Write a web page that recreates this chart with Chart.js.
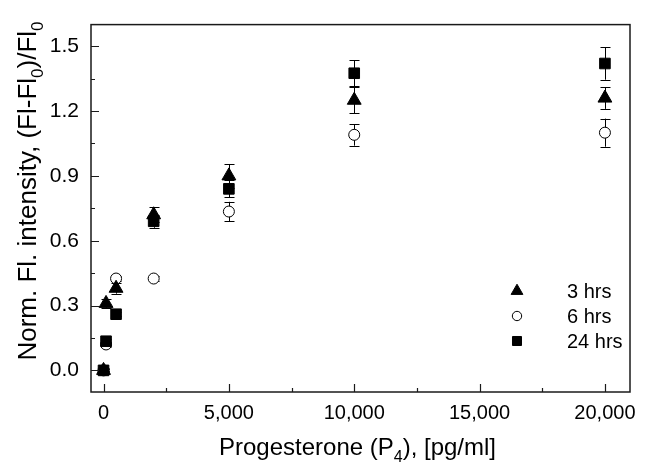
<!DOCTYPE html>
<html>
<head>
<meta charset="utf-8">
<script src="https://cdn.jsdelivr.net/npm/chart.js@4/dist/chart.umd.min.js"></script>
<style>
  html, body { margin: 0; padding: 0; background: #fff; }
  #wrap { width: 648px; height: 467px; }
</style>
</head>
<body>
<div id="wrap"><canvas id="grafico" width="648" height="467"></canvas></div>
<script>
// concentraciones de progesterona (pg/ml)
const concentraciones = [0, 100, 500, 2000, 5000, 10000, 20000];

const horas3 = [0.0, 0.31, 0.38, 0.72, 0.90, 1.25, 1.26];
const horas3Err = [0.01, 0.02, 0.025, 0.035, 0.055, 0.06, 0.05];

const horas6 = [0.0, 0.12, 0.425, 0.425, 0.735, 1.09, 1.10];
const horas6Err = [0.005, 0.01, 0.01, 0.01, 0.045, 0.05, 0.065];

const horas24 = [0.0, 0.135, 0.26, 0.69, 0.84, 1.375, 1.42];
const horas24Err = [0.005, 0.01, 0.01, 0.03, 0.04, 0.06, 0.075];

const etiquetasSerie = ['3 hrs', '6 hrs', '24 hrs'];

const xTicks = [0, 5000, 10000, 15000, 20000];
const xMinor = [2500, 7500, 12500, 17500];
const yTicks = [0.0, 0.3, 0.6, 0.9, 1.2, 1.5];
const yMinor = [0.15, 0.45, 0.75, 1.05, 1.35];

const FUENTE = "'Liberation Sans', Arial, sans-serif";

function puntos(ys) {
    return concentraciones.map((x, i) => ({ x: x, y: ys[i] }));
}

// barras de error (se dibujan antes de los marcadores)
const barrasError = {
    id: 'barrasError',
    beforeDatasetsDraw(chart) {
        const ctx = chart.ctx;
        const xs = chart.scales.x, ys = chart.scales.y;
        ctx.save();
        ctx.strokeStyle = '#000';
        ctx.lineWidth = 1;
        chart.data.datasets.forEach(ds => {
            ds.data.forEach((p, i) => {
                const e = ds.errores[i];
                if (!e) return;
                const px = Math.round(xs.getPixelForValue(p.x)) + 0.5;
                const y1 = ys.getPixelForValue(p.y + e);
                const y2 = ys.getPixelForValue(p.y - e);
                ctx.beginPath();
                ctx.moveTo(px, y1); ctx.lineTo(px, y2);
                ctx.moveTo(px - 5, Math.round(y1) + 0.5); ctx.lineTo(px + 5, Math.round(y1) + 0.5);
                ctx.moveTo(px - 5, Math.round(y2) + 0.5); ctx.lineTo(px + 5, Math.round(y2) + 0.5);
                ctx.stroke();
            });
        });
        ctx.restore();
    }
};

function textoRico(ctx, partes, size) {
    let w = 0;
    partes.forEach(p => {
        ctx.font = (p.sub ? Math.round(size * 0.65) : size) + 'px ' + FUENTE;
        w += ctx.measureText(p.t).width;
    });
    return w;
}

function dibujarRico(ctx, partes, size, x, y) {
    let cx = x;
    partes.forEach(p => {
        const s = p.sub ? Math.round(size * 0.65) : size;
        ctx.font = s + 'px ' + FUENTE;
        ctx.fillText(p.t, cx, p.sub ? y + size * 0.28 : y);
        cx += ctx.measureText(p.t).width;
    });
}

// marco, marcas interiores, titulos y leyenda
const decoracion = {
    id: 'decoracion',
    afterDraw(chart) {
        const ctx = chart.ctx;
        const a = chart.chartArea;
        const xs = chart.scales.x, ys = chart.scales.y;
        ctx.save();
        ctx.strokeStyle = '#1a1a1a';
        ctx.lineWidth = 1.5;
        ctx.strokeRect(a.left, a.top, a.right - a.left, a.bottom - a.top);

        ctx.lineWidth = 1.2;
        ctx.beginPath();
        xTicks.forEach(v => {
            const px = Math.round(xs.getPixelForValue(v)) + 0.5;
            ctx.moveTo(px, a.bottom); ctx.lineTo(px, a.bottom - 8);
        });
        xMinor.forEach(v => {
            const px = Math.round(xs.getPixelForValue(v)) + 0.5;
            ctx.moveTo(px, a.bottom); ctx.lineTo(px, a.bottom - 4);
        });
        yTicks.forEach(v => {
            const py = Math.round(ys.getPixelForValue(v)) + 0.5;
            ctx.moveTo(a.left, py); ctx.lineTo(a.left + 8, py);
        });
        yMinor.forEach(v => {
            const py = Math.round(ys.getPixelForValue(v)) + 0.5;
            ctx.moveTo(a.left, py); ctx.lineTo(a.left + 4, py);
        });
        ctx.stroke();

        ctx.fillStyle = '#000';
        ctx.textBaseline = 'alphabetic';
        ctx.textAlign = 'left';

        // titulo eje x
        const tx = [{ t: 'Progesterone (P' }, { t: '4', sub: true }, { t: '), [pg/ml]' }];
        const wx = textoRico(ctx, tx, 24);
        dibujarRico(ctx, tx, 24, (a.left + a.right) / 2 - wx / 2 - 3, 455);

        // titulo eje y
        const ty = [{ t: 'Norm. Fl. intensity, (Fl-Fl' }, { t: '0', sub: true }, { t: ')/Fl' }, { t: '0', sub: true }];
        const wy = textoRico(ctx, ty, 26);
        ctx.save();
        ctx.translate(36, 191);
        ctx.rotate(-Math.PI / 2);
        dibujarRico(ctx, ty, 26, -wy / 2, 0);
        ctx.restore();

        // leyenda
        chart.data.datasets.forEach((ds, i) => {
            const ly = 291 + i * 25;
            ctx.fillStyle = ds.backgroundColor;
            ctx.strokeStyle = ds.borderColor;
            ctx.lineWidth = ds.borderWidth;
            Chart.helpers.drawPoint(ctx, {
                pointStyle: ds.pointStyle,
                radius: ds.pointRadius * 0.85,
                borderWidth: ds.borderWidth,
                rotation: 0
            }, 517, ly);
            ctx.fillStyle = '#000';
            ctx.font = '20px ' + FUENTE;
            ctx.textBaseline = 'middle';
            ctx.fillText(etiquetasSerie[i], 567, ly + 1);
        });
        ctx.restore();
    }
};

const ctx = document.getElementById('grafico').getContext('2d');
const grafico = new Chart(ctx, {
    type: 'scatter',
    data: {
        datasets: [
            {
                label: etiquetasSerie[0],
                data: puntos(horas3),
                errores: horas3Err,
                order: 0,
                pointStyle: 'triangle',
                pointRadius: 8,
                backgroundColor: '#000',
                borderColor: '#000',
                borderWidth: 1
            },
            {
                label: etiquetasSerie[1],
                data: puntos(horas6),
                errores: horas6Err,
                order: 2,
                pointStyle: 'circle',
                pointRadius: 5.5,
                backgroundColor: '#fff',
                borderColor: '#000',
                borderWidth: 1
            },
            {
                label: etiquetasSerie[2],
                data: puntos(horas24),
                errores: horas24Err,
                order: 1,
                pointStyle: 'rect',
                pointRadius: 7.5,
                backgroundColor: '#000',
                borderColor: '#000',
                borderWidth: 1
            }
        ]
    },
    options: {
        responsive: false,
        animation: false,
        layout: { padding: { top: 17, right: 18, left: 0, bottom: 0 } },
        plugins: {
            legend: { display: false },
            tooltip: { enabled: false }
        },
        scales: {
            x: {
                type: 'linear',
                min: -500,
                max: 21000,
                afterBuildTicks: s => { s.ticks = xTicks.map(v => ({ value: v })); },
                afterFit: s => { s.height = 75; },
                grid: { display: false, drawTicks: false },
                border: { display: false },
                ticks: {
                    autoSkip: false,
                    maxRotation: 0,
                    padding: 9,
                    color: '#000',
                    font: { family: FUENTE, size: 20 },
                    callback: v => v.toLocaleString('en-US')
                }
            },
            y: {
                type: 'linear',
                min: -0.1,
                max: 1.6,
                afterBuildTicks: s => { s.ticks = yTicks.map(v => ({ value: v })); },
                afterFit: s => { s.width = 91; },
                grid: { display: false, drawTicks: false },
                border: { display: false },
                ticks: {
                    padding: 12,
                    color: '#000',
                    font: { family: FUENTE, size: 21 },
                    callback: v => v.toFixed(1)
                }
            }
        }
    },
    plugins: [barrasError, decoracion]
});
</script>
</body>
</html>
